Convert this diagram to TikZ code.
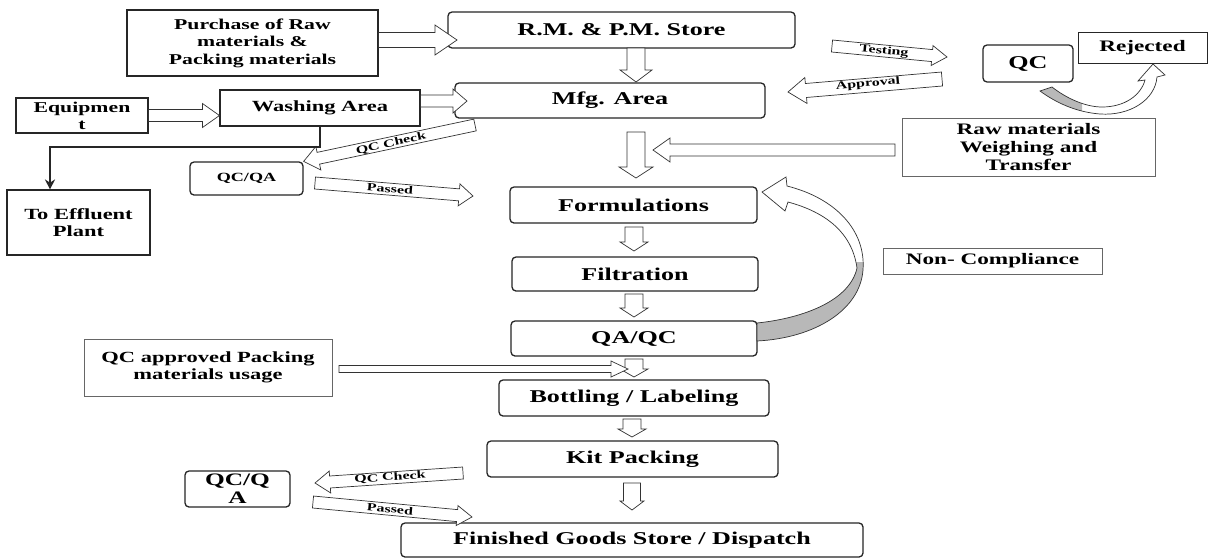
\documentclass[tikz,border=0pt]{standalone}
\usepackage{fontspec}
\setmainfont{Liberation Serif}[FakeStretch=1.45]
\usetikzlibrary{calc,arrows.meta}
\newcommand\fs[2]{\fontsize{#1}{#2}\selectfont}
\tikzset{
 base/.style={draw=black!85, line width=1.3pt, fill=white, align=center, inner sep=0pt},
 rbox/.style={base, rounded corners=4pt},
 sbox/.style={base, line width=1.1pt},
 tbox/.style={base, draw=black!60, line width=0.9pt},
 blk/.style={draw=black!80, line width=0.7pt, fill=white, line join=miter},
 lbl/.style={font=\bfseries\fs{11}{12}, inner sep=0pt},
 curvarrow/.style={draw=black!80, line width=0.7pt},
}
% block arrow: [opts]{tail}{tip}{shaft half width}{head half width}{head length}
\newcommand\barrow[6][]{%
 \coordinate (bh) at ($(#3)!#6!(#2)$);
 \draw[blk,#1] ($(#2)!#4!90:(#3)$) -- ($(bh)!#4!90:(#3)$) -- ($(bh)!#5!90:(#3)$) -- (#3)
   -- ($(bh)!#5!-90:(#3)$) -- ($(bh)!#4!-90:(#3)$) -- ($(#2)!#4!-90:(#3)$) -- cycle;}
\begin{document}
\begin{tikzpicture}[x=1pt,y=-1pt]
\useasboundingbox[fill=white] (0,0) rectangle (1209,558);

% ---------- nodes ----------
\node[sbox, minimum width=251pt, minimum height=66pt, font=\bfseries\fs{15}{17.5}] (pur) at (252.5,43) {Purchase of Raw\\materials \&\\Packing materials};
\node[rbox, minimum width=347pt, minimum height=36pt, font=\bfseries\fs{18}{20}] (rm) at (621.5,30) {R.M. \& P.M. Store};
\node[rbox, minimum width=310pt, minimum height=35pt, font=\bfseries\fs{18}{20}] (mfg) at (610,100.5) {Mfg. Area};
\node[sbox, minimum width=200pt, minimum height=36pt, font=\bfseries\fs{15.5}{17}] (wash) at (320,108) {Washing Area};
\node[sbox, minimum width=132pt, minimum height=35pt, font=\bfseries\fs{15}{17}] (equip) at (82,115.5) {Equipmen\\t};
\node[sbox, minimum width=143pt, minimum height=65pt, font=\bfseries\fs{15.5}{17}] (eff) at (78.5,222.5) {To Effluent\\Plant};
\node[rbox, minimum width=113pt, minimum height=33pt, font=\bfseries\fs{12.5}{14}] (qa1) at (246.5,178.5) {QC/QA};
\node[rbox, minimum width=247pt, minimum height=36pt, font=\bfseries\fs{18}{20}] (form) at (633.5,205) {Formulations};
\node[rbox, minimum width=246pt, minimum height=34pt, font=\bfseries\fs{18}{20}] (filt) at (635,274) {Filtration};
\node[rbox, minimum width=246pt, minimum height=35pt, font=\bfseries\fs{18}{20}] (qaqc) at (634,338.5) {QA/QC};
\node[rbox, minimum width=270pt, minimum height=36pt, font=\bfseries\fs{18}{20}] (bott) at (634,398) {Bottling / Labeling};
\node[rbox, minimum width=291pt, minimum height=36pt, font=\bfseries\fs{18}{20}] (kit) at (632.5,459) {Kit Packing};
\node[rbox, minimum width=462pt, minimum height=34pt, font=\bfseries\fs{18}{20}] (fin) at (632,540) {Finished Goods Store / Dispatch};
\node[rbox, minimum width=105pt, minimum height=36pt, font=\bfseries\fs{17.5}{18}] (qa2) at (237.5,489) {QC/Q\\A};
\node[tbox, minimum width=248pt, minimum height=57pt, font=\bfseries\fs{15.5}{17}] (pack) at (208,367.5) {QC approved Packing\\materials usage};
\node[rbox, minimum width=90pt, minimum height=37pt, font=\bfseries\fs{18}{20}] (qcr) at (1028,63.5) {QC};
\node[sbox, line width=1pt, minimum width=129pt, minimum height=31pt, font=\bfseries\fs{16}{18}] (rej) at (1142.5,47.5) {Rejected};
\node[tbox, minimum width=253pt, minimum height=58pt, font=\bfseries\fs{16}{18}] (raw) at (1028.5,147) {Raw materials\\Weighing and\\Transfer};
\node[tbox, minimum width=219pt, minimum height=26pt, font=\bfseries\fs{16}{18}] (nonc) at (992.5,261) {Non- Compliance};

% ---------- straight block arrows ----------
\coordinate (a1s) at (pur.east |- 0,40);  \coordinate (a1e) at (457,40);
\barrow{a1s}{a1e}{7.5pt}{15pt}{22pt}
\coordinate (a2s) at (636,48);  \coordinate (a2e) at (636,82);
\barrow{a2s}{a2e}{9pt}{16pt}{12pt}
\coordinate (a3s) at (wash.east |- 0,101);  \coordinate (a3e) at (467,101);
\barrow{a3s}{a3e}{6pt}{12pt}{14pt}
\coordinate (a4s) at (equip.east |- 0,115.5);  \coordinate (a4e) at (wash.west |- 0,115.5);
\barrow{a4s}{a4e}{6pt}{12pt}{17pt}
\coordinate (a5s) at (636,132);  \coordinate (a5e) at (636,178);
\barrow{a5s}{a5e}{9pt}{17pt}{11pt}
\coordinate (a6s) at (895,150);  \coordinate (a6e) at (653,150);
\barrow{a6s}{a6e}{6pt}{12pt}{17pt}
\coordinate (a7s) at (634,227);  \coordinate (a7e) at (634,251);
\barrow{a7s}{a7e}{9pt}{14pt}{9pt}
\coordinate (a8s) at (634,294);  \coordinate (a8e) at (634,317);
\barrow{a8s}{a8e}{9pt}{14pt}{9pt}
\coordinate (a9s) at (634,359);  \coordinate (a9e) at (634,377);
\barrow{a9s}{a9e}{9pt}{14pt}{8pt}
\coordinate (a10s) at (339,369);  \coordinate (a10e) at (628,369);
\barrow{a10s}{a10e}{3.5pt}{8pt}{17pt}
\coordinate (a11s) at (632,419);  \coordinate (a11e) at (632,437);
\barrow{a11s}{a11e}{9pt}{14pt}{8pt}
\coordinate (a12s) at (632,483);  \coordinate (a12e) at (632,510);
\barrow{a12s}{a12e}{8.5pt}{12pt}{9pt}

% ---------- tilted labelled arrows ----------
\coordinate (c1s) at (475,125);  \coordinate (c1e) at (qa1.north east);
\barrow{c1s}{c1e}{6pt}{12pt}{15pt}
\node[lbl, rotate=12.5] (t1) at (391,143.5) {QC Check};
\coordinate (c2s) at (315,183);  \coordinate (c2e) at (473,196);
\barrow{c2s}{c2e}{6pt}{11pt}{14pt}
\node[lbl, rotate=-4.7] (t2) at (390,189) {Passed};
\coordinate (c3s) at (832,46);  \coordinate (c3e) at (947,57);
\barrow{c3s}{c3e}{6pt}{10pt}{15pt}
\node[lbl, rotate=-5.5] (t3) at (884,51.5) {Testing};
\coordinate (c4s) at (942,79);  \coordinate (c4e) at (788,92);
\barrow{c4s}{c4e}{7pt}{13pt}{18pt}
\node[lbl, rotate=4.8] (t4) at (868,84) {Approval};
\coordinate (c5s) at (463,473);  \coordinate (c5e) at (315,483);
\barrow{c5s}{c5e}{6pt}{11pt}{15pt}
\node[lbl, rotate=3.9] (t5) at (390,477.5) {QC Check};
\coordinate (c6s) at (313,502);  \coordinate (c6e) at (472,517);
\barrow{c6s}{c6e}{6pt}{10pt}{15pt}
\node[lbl, rotate=-5.4] (t6) at (390,509) {Passed};

% ---------- washing area to effluent ----------
\coordinate (bendpt) at (50,147);
\draw[line width=2.6pt, draw=black!85, -{Stealth[length=10pt,width=10pt]}] (wash.south) |- (bendpt) -- (bendpt |- eff.north);

% ---------- non-compliance curved arrow ----------
\fill[white] (762,192) -- (786,177) -- (787,186) .. controls (835,198) and (866,230) .. (863,270) .. controls (860,310) and (815,338) .. (757,341) -- (757,323) .. controls (805,318) and (850,300) .. (857,268) .. controls (852,232) and (825,212) .. (788,202) -- (785,211) -- cycle;
\begin{scope}
\clip (700,262) rectangle (900,360);
\fill[black!28] (762,192) -- (786,177) -- (787,186) .. controls (835,198) and (866,230) .. (863,270) .. controls (860,310) and (815,338) .. (757,341) -- (757,323) .. controls (805,318) and (850,300) .. (857,268) .. controls (852,232) and (825,212) .. (788,202) -- (785,211) -- cycle;
\end{scope}
\draw[curvarrow] (762,192) -- (786,177) -- (787,186) .. controls (835,198) and (866,230) .. (863,270) .. controls (860,310) and (815,338) .. (757,341) -- (757,323) .. controls (805,318) and (850,300) .. (857,268) .. controls (852,232) and (825,212) .. (788,202) -- (785,211) -- cycle;

% ---------- QC to rejected curved arrow ----------
\begin{scope}
\clip (1030,80) rectangle (1082,125);
\fill[black!28] (1153,64) -- (1165,75) -- (1157,77) .. controls (1155,100) and (1130,116) .. (1100,114) .. controls (1075,112) and (1055,102) .. (1040,91) -- (1052,87) .. controls (1066,98) and (1085,107) .. (1102,107) .. controls (1125,107) and (1141,95) .. (1145,80) -- (1138,81) -- cycle;
\end{scope}
\draw[curvarrow] (1153,64) -- (1165,75) -- (1157,77) .. controls (1155,100) and (1130,116) .. (1100,114) .. controls (1075,112) and (1055,102) .. (1040,91) -- (1052,87) .. controls (1066,98) and (1085,107) .. (1102,107) .. controls (1125,107) and (1141,95) .. (1145,80) -- (1138,81) -- cycle;
\end{tikzpicture}
\end{document}
